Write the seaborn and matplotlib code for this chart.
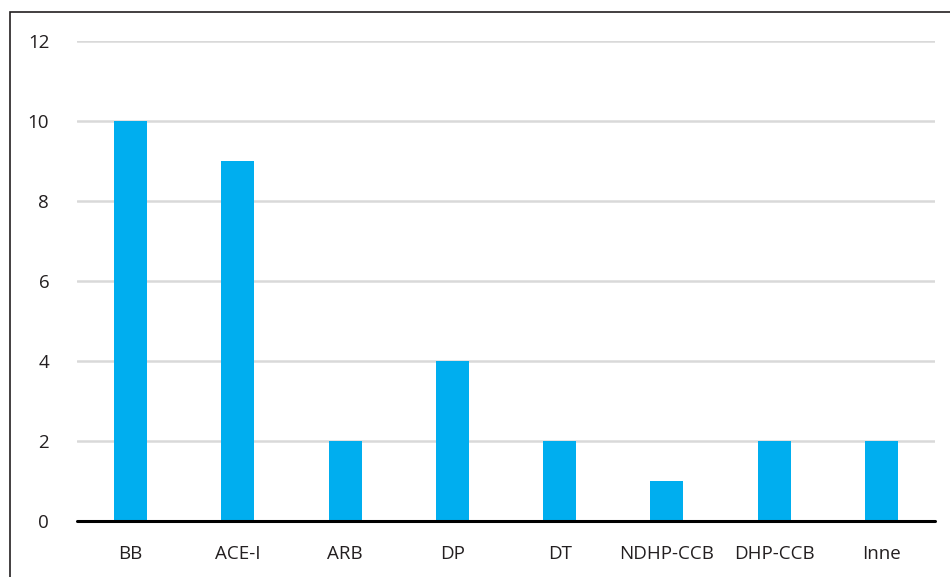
import matplotlib
matplotlib.use("Agg")
import matplotlib.pyplot as plt
import seaborn as sns
import pandas as pd
from matplotlib.patches import Rectangle

categories = ["BB", "ACE-I", "ARB", "DP", "DT", "NDHP-CCB", "DHP-CCB", "Inne"]
values = [10, 9, 2, 4, 2, 1, 2, 2]
yticks = [0, 2, 4, 6, 8, 10, 12]

sns.set_theme(style="white")
plt.rcParams['font.family'] = ['Open Sans', 'DejaVu Sans']

df = pd.DataFrame({"cat": categories, "val": values})

fig = plt.figure(figsize=(9.5, 5.77), dpi=100)
ax = fig.add_axes([77/950, 1-521/577, (935-77)/950, (521-41)/577])

sns.barplot(data=df, x="cat", y="val", color="#00AEEF", width=0.31,
            saturation=1, linewidth=0, edgecolor="none", ax=ax, zorder=3)

ax.set_xlim(-0.5, 7.5)
ax.set_ylim(0, 12)
ax.set_yticks(yticks)
ax.set_yticklabels([str(t) for t in yticks])
ax.set_xlabel("")
ax.set_ylabel("")
for t in yticks[1:]:
    ax.axhline(t, color="#d9d9d9", lw=1.8, zorder=1)
ax.axhline(0, color="#000000", lw=2.2, zorder=4, clip_on=False)
for s in ax.spines.values():
    s.set_visible(False)
ax.tick_params(axis="both", length=0, labelsize=13.5, colors="#231f20")
ax.tick_params(axis="y", pad=20)
ax.tick_params(axis="x", pad=17)

fig.patches.append(Rectangle((10/950, -0.1), 1.2, 1-12/577+0.1,
                             transform=fig.transFigure, fill=False,
                             edgecolor="#231f20", lw=1.2, figure=fig))

fig.savefig("out.png", dpi=100)
